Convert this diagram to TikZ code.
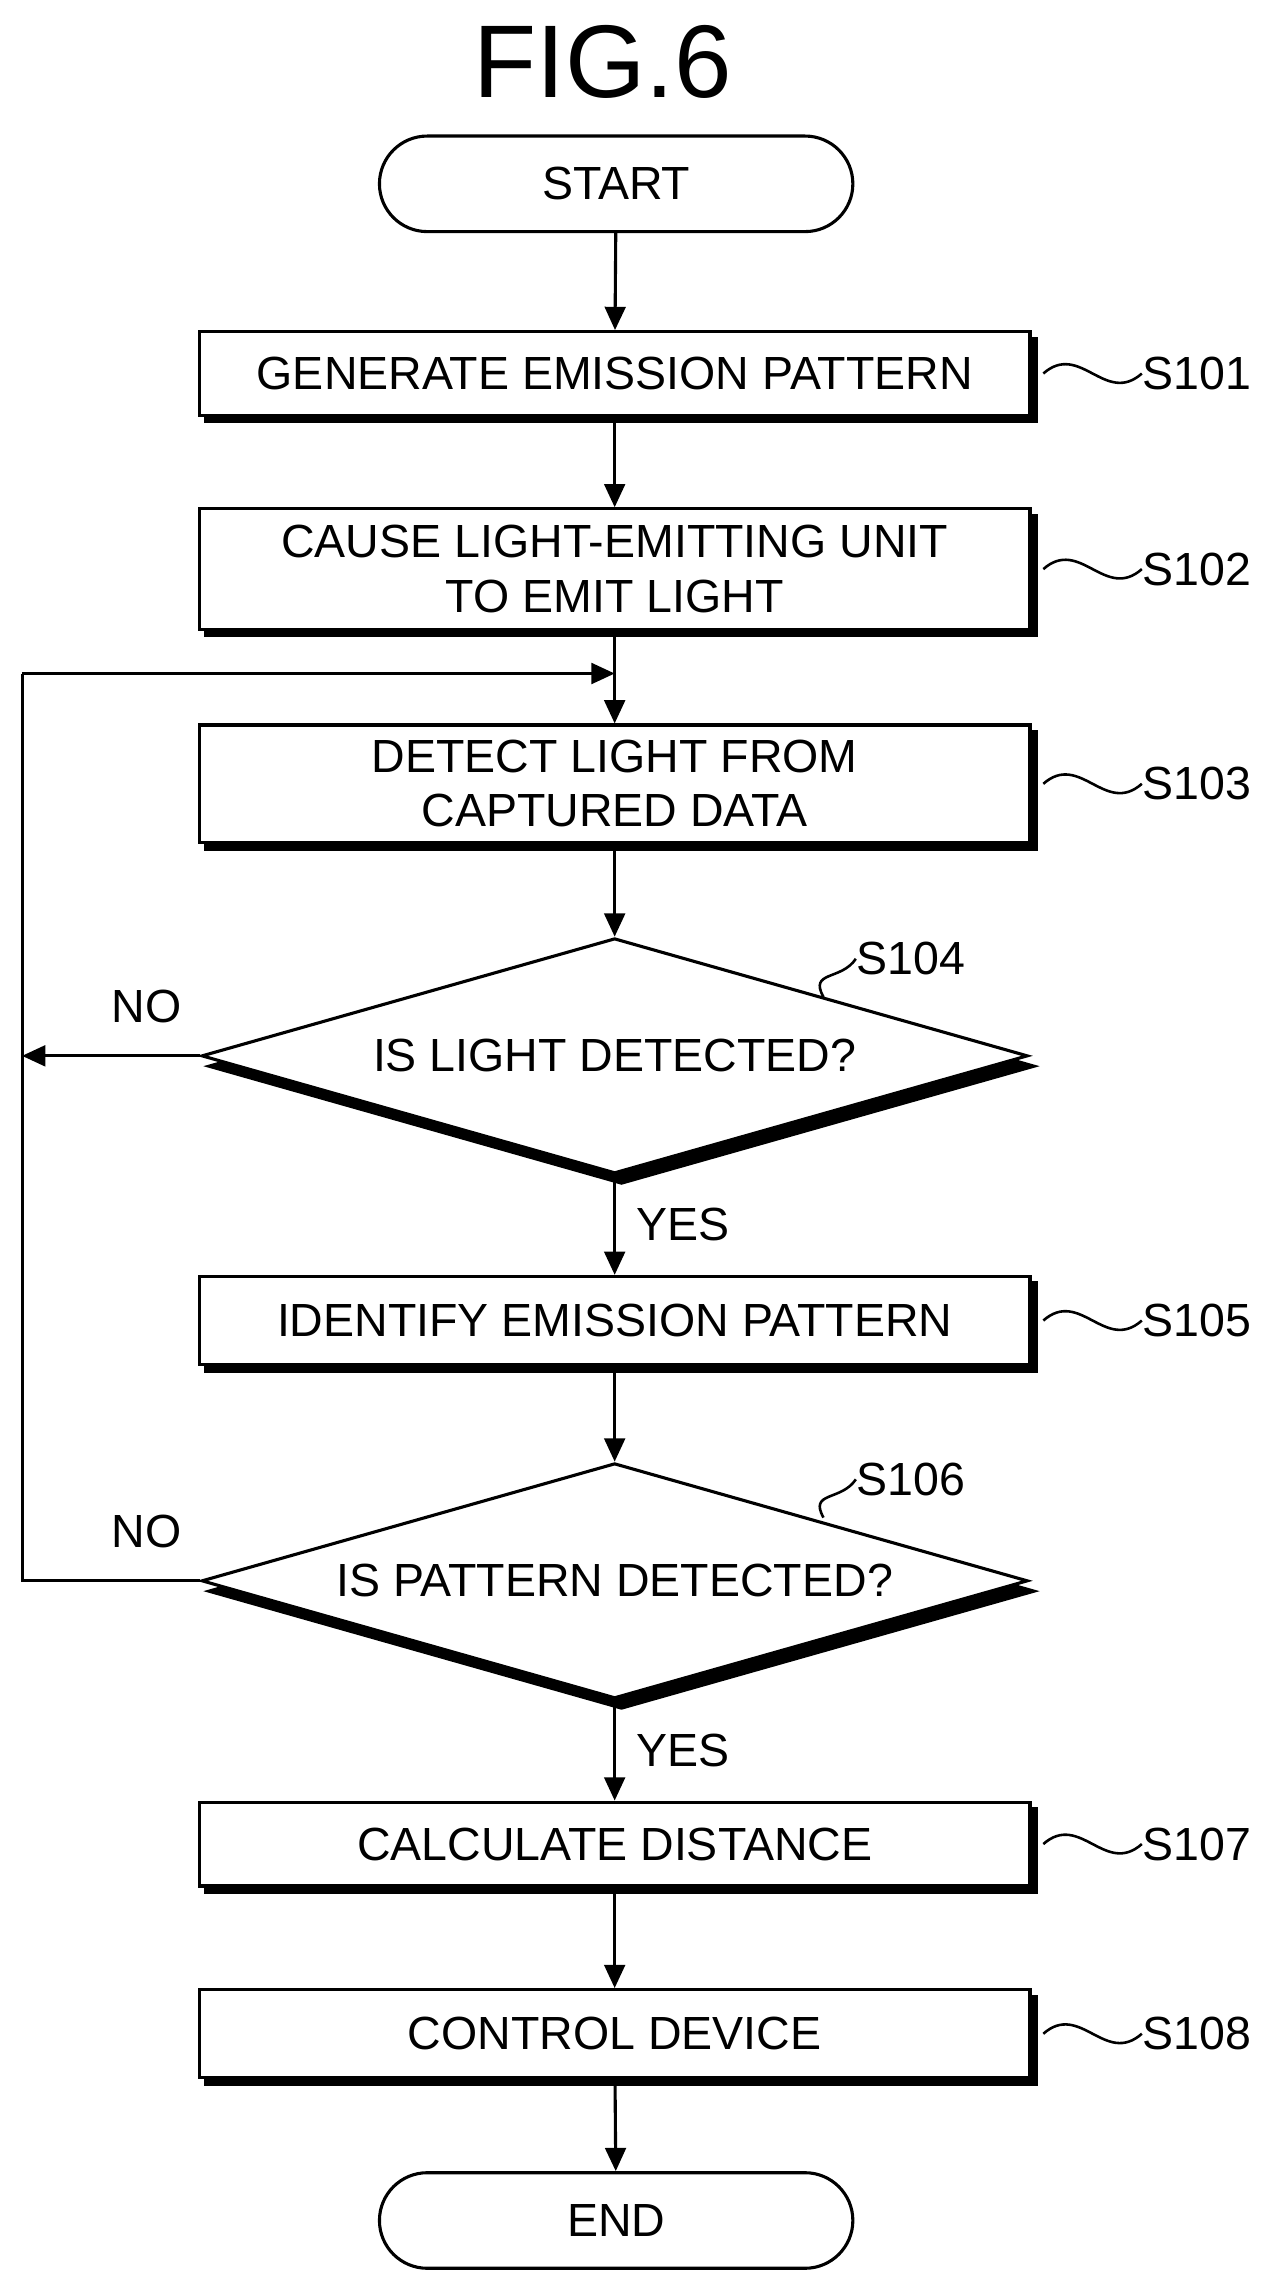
\documentclass[tikz,border=0pt]{standalone}
\usepackage{fontspec}
\setmainfont{Liberation Sans}
\usetikzlibrary{shapes, arrows.meta, positioning, shadows, calc}

\begin{document}
\begin{tikzpicture}[
    x=0.02cm, y=-0.02cm,
    font=\fontsize{18}{21}\selectfont,
    every node/.style={inner sep=0pt},
    proc/.style={rectangle, draw, fill=white, line width=1.2pt, minimum width=11.3cm, align=center,
        copy shadow={shadow xshift=2.5pt, shadow yshift=-2.5pt, fill=black, draw=black}},
    term/.style={rectangle, rounded corners=0.65cm, draw, fill=white, line width=1.2pt, minimum width=6.44cm, minimum height=1.3cm},
    test/.style={diamond, aspect=3.5, draw, fill=white, line width=1.2pt, minimum width=11.24cm, minimum height=3.2cm,
        copy shadow={shadow yshift=-4pt, fill=black, draw=black}},
    tag/.style={anchor=west},
    flow/.style={-{Triangle[length=9pt,width=8pt]}, line width=1.2pt}
]
    \useasboundingbox (0,0) rectangle (862,1560);
    \node[font=\fontsize{40}{44}\selectfont] at (410,42) {FIG.6};

    \node[term] (start) at (419,125) {START};
    \node[proc, minimum height=1.14cm] (s101) at (418,254) {GENERATE EMISSION PATTERN};
    \node[proc, minimum height=1.64cm] (s102) at (418,387) {CAUSE LIGHT-EMITTING UNIT\\TO EMIT LIGHT};
    \node[proc, minimum height=1.6cm] (s103) at (418,533) {DETECT LIGHT FROM\\CAPTURED DATA};
    \node[test] (s104) at (418,718) {IS LIGHT DETECTED?};
    \node[proc, minimum height=1.2cm] (s105) at (418,898) {IDENTIFY EMISSION PATTERN};
    \node[test] (s106) at (418,1075) {IS PATTERN DETECTED?};
    \node[proc, minimum height=1.14cm] (s107) at (418,1254) {CALCULATE DISTANCE};
    \node[proc, minimum height=1.2cm] (s108) at (418,1383) {CONTROL DEVICE};
    \node[term] (end) at (419,1510) {END};

    % step labels
    \foreach \n/\t in {s101/S101, s102/S102, s103/S103, s105/S105, s107/S107, s108/S108} {
        \node[tag] (l\n) at ($(\n.east)+(75,0)$) {\t};
        \draw[line width=1pt] ($(\n.east)+(8,0)$) .. controls +(25,-22) and +(-25,22) .. (l\n.west);
    }
    \node[tag] (ls104) at (582,652) {S104};
    \draw[line width=1pt] (560,678) .. controls +(-10,-18) and +(-10,15) .. (ls104.west);
    \node[tag] (ls106) at (582,1006) {S106};
    \draw[line width=1pt] (560,1032) .. controls +(-10,-18) and +(-10,15) .. (ls106.west);

    % connectors
    \coordinate (loop) at (418,458);
    \coordinate (left) at (15,718);
    \draw[flow] (start) -- (s101);
    \draw[flow] (s101) -- (s102);
    \draw[flow] (s102) -- (s103);
    \draw[flow] (s103) -- (s104);
    \draw[flow] (s104) -- node[right=8pt] {YES} (s105);
    \draw[flow] (s105) -- (s106);
    \draw[flow] (s106) -- node[right=8pt] {YES} (s107);
    \draw[flow] (s107) -- (s108);
    \draw[flow] (s108) -- (end);
    \draw[flow] (s104.west) -- node[above=12pt, pos=0.3] {NO} (left);
    \draw[line width=1.2pt] (s106.west) -- node[above=12pt, pos=0.3] {NO} (15,1075) -- (15,458);
    \draw[flow] (15,458) -- (loop);
\end{tikzpicture}
\end{document}
